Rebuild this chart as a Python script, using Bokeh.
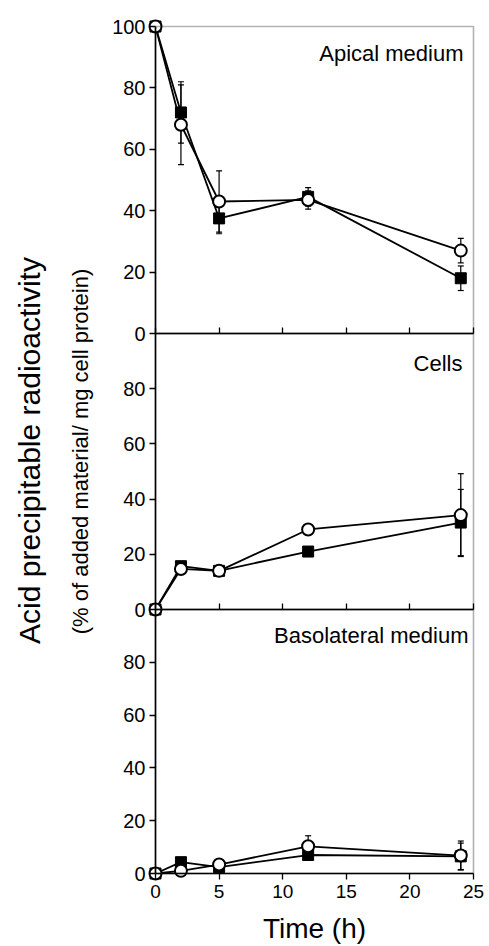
import math
from bokeh.plotting import figure
from bokeh.models import (Range1d, LinearAxis, FixedTicker, Whisker, ColumnDataSource,
                          BoxAnnotation, Label, TeeHead)
from bokeh.embed import file_html
from bokeh.resources import INLINE

# ---------------- data ----------------
time_h = [0, 2, 5, 12, 24]

apical_sq = [100, 72, 37.5, 44.5, 18]
apical_sq_err = [0, 10, 5, 3, 4]
apical_ci = [100, 68, 43, 43.5, 27]
apical_ci_err = [0, 13, 10, 3, 4]

cells_sq = [0, 15.7, 14, 21, 31.5]
cells_sq_err = [0, 0, 0, 0, 12]
cells_ci = [0, 14.7, 14, 29, 34.2]
cells_ci_err = [0, 0, 0, 0, 15]

baso_sq = [0, 4.3, 2.4, 7, 6.5]
baso_sq_err = [0, 0, 0, 0, 5]
baso_ci = [0, 1, 3.4, 10.3, 6.8]
baso_ci_err = [0, 0, 1.5, 4, 5.5]

panel_names = ["Apical medium", "Cells", "Basolateral medium"]
y_ticks_first = [0, 20, 40, 60, 80, 100]
y_ticks_rest = [0, 20, 40, 60, 80]
x_ticks = [0, 5, 10, 15, 20, 25]
x_label = "Time (h)"
y_title = "Acid precipitable radioactivity"
y_subtitle = "(% of added material/ mg cell protein)"

# ---------------- layout constants (pixels) ----------------
W, H = 489, 946
AX_L, AX_R = 155, 473            # pixel of x=0 and x=25
BANDS = [(26, 333), (333, 609), (609, 873)]   # pixel of y=100 and y=0 per panel
F_L, F_R, F_T, F_B = 0, W, 0, H               # frame = whole canvas
FONT = "Liberation Sans"
INK = "black"

sx = (AX_R - AX_L) / 25.0
x_start = -(AX_L - F_L) / sx
x_end = 25 + (F_R - AX_R) / sx


def band_range(a, b):
    s = (b - a) / 100.0
    return Range1d(start=-(F_B - b) / s, end=100 + (a - F_T) / s)


def y_of_px(band, py):
    a, b = band
    return (b - py) / ((b - a) / 100.0)


def x_of_px(px):
    return (px - AX_L) / sx


p = figure(width=W, height=H, x_range=Range1d(x_start, x_end), y_range=Range1d(0, 1),
           x_axis_location=None, y_axis_location=None, toolbar_location=None,
           output_backend="svg", min_border_left=0, min_border_right=0,
           min_border_top=0, min_border_bottom=0, outline_line_color=None,
           title=None)
p.xgrid.visible = False
p.ygrid.visible = False
p.background_fill_color = "white"
p.border_fill_color = "white"

names = ["p1", "p2", "p3"]
p.extra_y_ranges = {n: band_range(*b) for n, b in zip(names, BANDS)}

panels = [
    (apical_sq, apical_sq_err, apical_ci, apical_ci_err),
    (cells_sq, cells_sq_err, cells_ci, cells_ci_err),
    (baso_sq, baso_sq_err, baso_ci, baso_ci_err),
]
label_pos = [(x_of_px(463), y_of_px(BANDS[0], 53)),
             (x_of_px(462), y_of_px(BANDS[1], 363)),
             (x_of_px(468), y_of_px(BANDS[2], 635))]

for i, (name, band, data) in enumerate(zip(names, BANDS, panels)):
    sq, sq_err, ci, ci_err = data

    box = BoxAnnotation(left=0, right=25, bottom=0, top=100, y_range_name=name,
                        fill_color=None, line_color=INK, line_width=1.6)
    p.add_layout(box)

    yax = LinearAxis(y_range_name=name, fixed_location=0, bounds=(0, 100),
                     ticker=FixedTicker(ticks=y_ticks_first if i == 0 else y_ticks_rest),
                     major_tick_out=6, major_tick_in=0, minor_tick_out=0, minor_tick_in=0,
                     major_label_text_font=FONT, major_label_text_font_size="20px",
                     major_label_text_color=INK, axis_line_color=INK, major_tick_line_color=INK,
                     major_label_standoff=4, axis_line_width=1.6, major_tick_line_width=1.3)
    p.add_layout(yax, "left")

    if i < 2:
        xax = LinearAxis(y_range_name=name, fixed_location=0, bounds=(0, 25),
                         ticker=FixedTicker(ticks=x_ticks),
                         major_tick_out=0, major_tick_in=6, minor_tick_out=0, minor_tick_in=0,
                         major_label_overrides={t: "" for t in x_ticks},
                         axis_line_color=INK, major_tick_line_color=INK,
                         axis_line_width=1.6, major_tick_line_width=1.3)
    else:
        xax = LinearAxis(y_range_name=name, fixed_location=0, bounds=(0, 25),
                         ticker=FixedTicker(ticks=x_ticks),
                         major_tick_out=6, major_tick_in=0, minor_tick_out=0, minor_tick_in=0,
                         major_label_text_font=FONT, major_label_text_font_size="19px",
                         major_label_text_color=INK, axis_line_color=INK,
                         major_tick_line_color=INK,
                         major_label_standoff=5, axis_line_width=1.6, major_tick_line_width=1.3,
                         axis_label=x_label, axis_label_text_font=FONT,
                         axis_label_text_color=INK,
                         axis_label_text_font_size="28px", axis_label_text_font_style="normal",
                         axis_label_standoff=12)
    p.add_layout(xax, "below")

    # connecting lines
    p.line(time_h, sq, y_range_name=name, line_color=INK, line_width=1.8)
    p.line(time_h, ci, y_range_name=name, line_color=INK, line_width=1.8)

    # error bars
    for vals, errs in ((sq, sq_err), (ci, ci_err)):
        xs = [t for t, e in zip(time_h, errs) if e > 0]
        lo = [v - e for v, e in zip(vals, errs) if e > 0]
        hi = [v + e for v, e in zip(vals, errs) if e > 0]
        if xs:
            src = ColumnDataSource(dict(x=xs, lower=lo, upper=hi))
            w = Whisker(source=src, base="x", lower="lower", upper="upper",
                        y_range_name=name, level="underlay", line_color=INK,
                        line_width=1.2,
                        upper_head=TeeHead(size=6, line_width=1.2, line_color=INK),
                        lower_head=TeeHead(size=6, line_width=1.2, line_color=INK))
            p.add_layout(w)

    p.scatter(time_h, sq, y_range_name=name, marker="square", size=11,
              fill_color=INK, line_color=INK)
    p.scatter(time_h, ci, y_range_name=name, marker="circle", size=12,
              fill_color="white", line_color=INK, line_width=2)

    lx, ly = label_pos[i]
    p.add_layout(Label(x=lx, y=ly, y_range_name=name, text=panel_names[i],
                       text_align="right", text_baseline="alphabetic",
                       text_font=FONT, text_font_size="22px", text_color=INK))

# rotated y titles (shared by all panels)
p.add_layout(Label(x=x_of_px(29), y=y_of_px(BANDS[1], 450), y_range_name="p2",
                   text=y_title, angle=math.pi / 2, text_align="center",
                   text_baseline="alphabetic", text_font=FONT, text_font_size="30px",
                   text_color=INK))
p.add_layout(Label(x=x_of_px(80), y=y_of_px(BANDS[1], 451), y_range_name="p2",
                   text=y_subtitle, angle=math.pi / 2, text_align="center",
                   text_baseline="alphabetic", text_font=FONT, text_font_size="22px",
                   text_color=INK))

open("out.html", "w").write(file_html(p, INLINE))
